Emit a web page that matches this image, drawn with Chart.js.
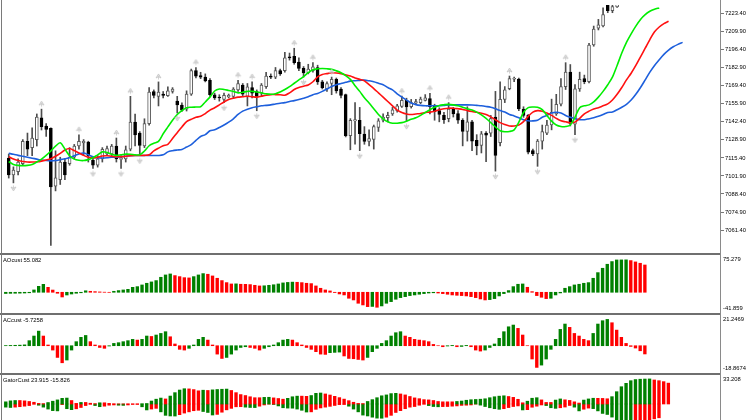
<!DOCTYPE html>
<html>
<head>
<meta charset="utf-8">
<script src="https://cdn.jsdelivr.net/npm/chart.js@4.4.1/dist/chart.umd.min.js"></script>
<style>
body{margin:0;background:#fff;}
#wrap{position:relative;width:752px;height:420px;overflow:hidden;background:#fff;}
#wrap canvas{position:absolute;left:0;}
.sep{position:absolute;left:0;width:721px;height:2px;background:#6f6f6f;}
.vline{position:absolute;top:0;width:1px;height:420px;}
</style>
</head>
<body>
<div id="wrap">
	<canvas id="mainChart" width="752" height="253" style="top:0"></canvas>
	<canvas id="aoChart" width="752" height="58" style="top:255px"></canvas>
	<canvas id="acChart" width="752" height="58" style="top:315px"></canvas>
	<canvas id="gatorChart" width="752" height="45" style="top:375px"></canvas>
	<div class="sep" style="top:253px"></div>
	<div class="sep" style="top:313px"></div>
	<div class="sep" style="top:373px"></div>
	<div class="vline" style="left:1px;background:#7a7a7a"></div>
	<div class="vline" style="left:720px;background:#8a8a8a"></div>
</div>
<script>
// price candles, one per bar
const candleOpen = [7115.2,7102.7,7105.1,7111.1,7127.9,7123.1,7129.1,7145.4,7139.2,7137.5,
	7094.3,7099.1,7112.3,7111.1,7115.9,7124.3,7126.7,7127.2,7113.5,7109.9,
	7114.7,7118.3,7118.3,7124.3,7114.2,7114.7,7121.9,7142.3,7133.9,7124.3,
	7141.1,7165.1,7161.5,7163.2,7162.0,7165.1,7157.9,7155.0,7151.9,7163.2,
	7180.7,7177.1,7175.9,7173.5,7162.7,7161.0,7159.1,7161.0,7161.5,7166.3,
	7169.9,7161.5,7168.0,7165.1,7163.9,7168.7,7176.6,7175.9,7180.7,7180.7,
	7191.0,7191.5,7187.2,7182.4,7179.0,7180.7,7183.1,7172.3,7167.0,7171.1,
	7174.2,7167.0,7162.8,7132.1,7143.1,7143.6,7133.3,7127.8,7129.2,7138.3,
	7143.6,7145.5,7148.4,7150.8,7154.0,7158.5,7153.7,7156.3,7156.8,7158.5,
	7159.9,7154.4,7150.8,7147.2,7144.8,7151.9,7148.6,7143.6,7135.2,7142.4,
	7128.5,7124.7,7134.0,7134.0,7146.0,7126.8,7159.2,7167.3,7174.3,7174.5,
	7152.0,7147.2,7120.8,7118.4,7128.0,7134.0,7140.0,7148.4,7155.6,7168.8,
	7179.6,7140.7,7167.1,7174.7,7172.4,7199.9,7212.6,7214.3,7232.8,7225.6,
	7228.5,7233.0,7240.0,7245.0,7238.0,7241.0,7236.0];
const candleHigh = [7118.3,7108.7,7114.7,7129.1,7134.0,7138.0,7148.3,7151.9,7141.1,7138.0,
	7120.7,7115.9,7114.7,7123.1,7125.5,7132.7,7129.1,7127.9,7115.9,7117.1,
	7123.1,7124.3,7125.5,7130.3,7117.1,7124.3,7161.5,7148.3,7135.1,7144.7,
	7168.0,7166.3,7172.3,7165.1,7168.7,7168.0,7161.5,7156.7,7165.6,7181.9,
	7183.1,7179.5,7178.3,7174.7,7163.9,7162.7,7163.9,7163.2,7168.0,7173.5,
	7171.1,7171.1,7172.3,7166.3,7171.1,7179.5,7178.3,7183.1,7181.9,7194.4,
	7193.9,7197.5,7190.3,7183.8,7185.5,7186.7,7184.8,7173.5,7172.3,7175.9,
	7175.2,7168.0,7163.2,7144.8,7156.8,7153.2,7138.8,7136.4,7140.0,7144.8,
	7148.4,7149.6,7153.2,7155.6,7161.6,7160.1,7159.2,7159.2,7160.9,7162.8,
	7163.7,7155.6,7152.9,7149.6,7156.8,7153.2,7150.8,7144.8,7153.7,7143.6,
	7132.8,7135.2,7135.2,7147.2,7165.2,7172.4,7168.8,7176.7,7175.9,7175.2,
	7153.7,7147.9,7122.0,7129.2,7140.0,7143.6,7159.4,7163.0,7174.7,7186.7,
	7185.3,7170.2,7179.6,7177.4,7201.1,7214.1,7219.1,7227.7,7235.6,7231.3,
	7235.6,7242.0,7248.0,7247.0,7244.0,7243.0,7240.0];
const candleLow = [7100.3,7096.7,7102.7,7109.9,7117.1,7117.1,7124.3,7136.3,7131.5,7049.9,
	7090.7,7095.5,7099.1,7109.9,7114.7,7121.9,7117.1,7112.3,7107.5,7108.5,
	7112.3,7117.1,7117.1,7112.3,7107.5,7112.3,7120.7,7124.3,7117.1,7123.1,
	7139.9,7160.3,7154.3,7160.3,7161.5,7163.9,7149.0,7150.2,7150.5,7162.2,
	7175.2,7174.7,7172.3,7161.5,7159.1,7157.9,7156.7,7160.3,7160.3,7165.1,
	7161.5,7154.3,7160.3,7150.7,7161.5,7167.5,7174.7,7174.7,7177.1,7179.5,
	7188.6,7185.5,7180.7,7175.9,7178.3,7179.5,7170.4,7167.0,7165.1,7162.7,
	7163.9,7160.3,7131.1,7121.5,7125.6,7120.8,7125.6,7124.4,7122.0,7135.2,
	7142.4,7142.4,7147.2,7149.6,7153.2,7142.9,7152.7,7155.6,7156.0,7158.0,
	7148.4,7143.6,7142.4,7141.2,7142.4,7146.0,7141.2,7124.4,7128.0,7120.8,
	7117.7,7119.1,7112.5,7131.4,7105.5,7124.4,7156.8,7166.4,7172.4,7150.8,
	7145.8,7118.4,7117.0,7109.1,7122.0,7132.8,7136.4,7147.2,7154.4,7166.6,
	7139.3,7132.8,7165.2,7170.9,7171.6,7199.0,7211.2,7213.4,7224.1,7224.1,
	7228.0,7231.0,7238.0,7236.0,7235.0,7233.0,7232.0];
const candleClose = [7102.7,7106.3,7112.3,7127.9,7121.9,7130.3,7145.9,7138.7,7136.8,7093.6,
	7100.5,7112.3,7102.7,7115.9,7124.3,7127.9,7127.9,7117.1,7109.9,7114.7,
	7121.9,7122.4,7124.3,7114.7,7115.2,7121.4,7142.3,7132.7,7124.8,7141.1,
	7164.6,7162.2,7164.6,7162.2,7165.6,7167.0,7155.0,7151.2,7163.2,7180.7,
	7176.6,7175.9,7173.0,7162.7,7160.3,7160.3,7162.2,7162.2,7167.0,7171.1,
	7163.2,7168.7,7163.9,7161.5,7169.9,7176.6,7175.9,7180.7,7178.3,7190.3,
	7190.3,7186.7,7182.4,7179.0,7181.9,7183.6,7172.3,7168.0,7171.1,7174.2,
	7165.6,7162.2,7132.1,7143.6,7144.0,7133.5,7127.8,7129.9,7138.8,7143.1,
	7146.0,7147.2,7151.3,7154.4,7158.5,7153.5,7156.8,7157.5,7159.4,7160.4,
	7153.7,7150.1,7147.9,7144.0,7152.0,7148.3,7143.6,7135.2,7142.4,7128.0,
	7124.4,7133.5,7132.4,7144.8,7117.2,7159.2,7166.4,7174.7,7175.0,7152.0,
	7147.2,7119.6,7118.4,7128.0,7135.2,7140.0,7149.6,7155.6,7168.8,7179.6,
	7141.2,7167.1,7174.3,7172.4,7199.9,7211.9,7215.0,7222.7,7225.6,7228.7,
	7233.5,7240.0,7245.0,7238.0,7241.0,7236.0,7238.0];

// alligator lines (already shifted forward as drawn)
const jaw = [7118.8,7118.1,7117.3,7116.6,7115.9,7115.2,7114.5,7113.8,7113.4,7113.2,
	7113.4,7114.1,7114.8,7115.5,7117.0,7118.4,7119.1,7117.7,7116.3,7115.5,
	7115.3,7115.5,7115.9,7116.0,7116.3,7116.6,7117.0,7117.2,7117.2,7117.2,
	7117.2,7117.2,7117.2,7117.7,7119.9,7120.8,7121.3,7121.7,7123.5,7125.3,
	7128.5,7131.4,7132.8,7135.7,7136.4,7138.2,7140.0,7142.2,7144.7,7147.9,
	7150.4,7151.9,7153.0,7153.7,7154.4,7154.7,7155.1,7155.8,7156.3,7156.8,
	7157.6,7158.3,7159.1,7160.1,7161.2,7162.7,7163.7,7165.2,7167.0,7168.8,
	7170.2,7171.1,7172.0,7172.9,7173.2,7173.4,7173.6,7173.1,7172.4,7171.3,
	7170.2,7168.1,7166.3,7163.4,7160.9,7158.7,7156.5,7155.3,7154.7,7154.4,
	7154.4,7154.4,7154.4,7154.7,7155.1,7155.1,7155.1,7155.1,7155.1,7155.0,
	7154.7,7154.4,7153.9,7153.3,7152.2,7150.8,7149.7,7147.9,7146.8,7145.4,
	7144.0,7143.2,7143.1,7143.6,7145.8,7147.2,7149.0,7149.6,7149.0,7147.2,
	7145.8,7144.7,7144.0,7144.0,7144.7,7145.4,7146.5,7147.9,7149.4,7149.7,
	7151.5,7153.3,7155.5,7158.7,7163.0,7168.1,7173.8,7179.6,7184.6,7188.9,
	7192.9,7196.1,7198.6,7200.4,7201.9];
const teeth = [7116.3,7114.5,7113.4,7112.7,7112.3,7112.3,7112.5,7113.0,7113.8,7114.8,
	7116.6,7118.8,7121.3,7122.4,7120.9,7119.1,7117.3,7115.9,7115.3,7115.9,
	7116.8,7117.0,7116.6,7116.3,7116.3,7116.6,7117.0,7117.2,7117.2,7117.3,
	7117.7,7120.6,7122.7,7124.5,7125.6,7129.9,7134.3,7138.6,7142.5,7144.3,
	7145.8,7146.5,7148.6,7151.2,7153.0,7155.1,7157.3,7159.2,7160.1,7160.9,
	7161.2,7161.6,7161.2,7160.9,7161.6,7162.3,7162.8,7162.8,7162.7,7162.3,
	7164.1,7166.6,7168.1,7169.1,7170.0,7172.4,7176.0,7177.8,7178.5,7179.1,
	7179.0,7178.5,7177.6,7176.7,7175.2,7174.2,7173.1,7170.2,7167.3,7164.1,
	7160.9,7157.6,7154.4,7151.2,7149.4,7148.3,7147.9,7148.3,7148.6,7149.4,
	7149.7,7150.4,7151.5,7152.2,7152.6,7152.6,7152.2,7151.7,7150.8,7150.1,
	7149.6,7148.9,7147.9,7146.1,7144.0,7141.8,7140.4,7139.3,7139.3,7140.0,
	7142.5,7146.5,7149.7,7150.8,7150.4,7149.0,7147.2,7145.0,7143.2,7142.4,
	7141.7,7142.2,7145.0,7148.4,7150.4,7152.0,7153.0,7154.4,7155.8,7158.7,
	7163.0,7168.1,7173.8,7178.8,7184.6,7191.1,7197.5,7204.0,7209.8,7213.4,
	7215.9,7217.7];
const lips = [7112.7,7110.5,7109.8,7109.6,7109.8,7110.5,7112.3,7114.5,7117.3,7120.6,
	7124.2,7126.7,7122.0,7117.0,7114.5,7113.6,7113.4,7114.1,7115.5,7117.7,
	7119.9,7119.5,7118.1,7117.3,7117.7,7118.2,7118.1,7117.7,7117.7,7120.6,
	7124.5,7126.3,7127.8,7133.5,7138.6,7143.6,7147.9,7150.8,7153.0,7153.3,
	7153.5,7153.7,7157.3,7160.9,7165.5,7167.0,7166.6,7165.9,7165.2,7164.1,
	7164.5,7165.2,7165.2,7164.8,7164.1,7163.4,7163.0,7163.4,7164.8,7166.6,
	7168.8,7171.3,7173.8,7176.3,7179.2,7181.4,7182.1,7182.3,7182.1,7181.7,
	7180.6,7179.2,7177.0,7174.2,7169.5,7165.2,7160.4,7156.5,7152.2,7147.9,
	7144.7,7142.5,7141.4,7141.4,7141.8,7142.9,7144.3,7145.4,7147.2,7149.4,
	7151.5,7153.3,7154.7,7155.2,7155.5,7155.1,7154.4,7153.3,7152.2,7151.2,
	7149.7,7147.6,7145.0,7141.8,7138.6,7135.7,7135.0,7135.2,7136.4,7142.2,
	7149.4,7153.0,7153.5,7153.3,7151.5,7147.2,7142.9,7140.0,7138.9,7138.9,
	7140.0,7145.8,7153.0,7154.4,7155.1,7157.3,7160.9,7165.2,7170.2,7175.9,
	7184.6,7193.9,7201.9,7208.3,7214.1,7219.1,7222.7,7225.2,7226.7,7227.7];

// bars carrying a fractal mark
const fractalUp = [7,15,23,26,32,40,49,52,61,65,69,84,90,94,107,119];
const fractalDown = [1,9,18,24,28,36,46,53,63,75,85,104,113,121];

const priceTicks = [7223.40,7209.90,7196.40,7182.90,7169.40,7155.90,7142.40,7128.90,7115.40,7101.90,7088.40,7074.90,7061.40];
const priceRange = [7047.95, 7229.87];

const aoValues = [-2.5,-2.2,-2.0,-1.8,-1.5,-1.0,4.7,12.0,16.0,10.0,
	4.5,-2.0,-9.5,-5.5,-3.5,-2.0,-1.0,3.0,2.0,1.3,
	0.7,0.2,-0.2,2.0,3.4,4.7,6.0,10.0,11.4,14.8,
	18.2,20.9,23.6,30.3,35.0,37.0,33.7,31.6,29.5,29.0,
	31.6,35.0,37.7,36.4,33.0,28.3,23.6,19.5,16.8,17.0,
	16.2,16.0,15.5,14.1,12.8,13.1,14.1,15.2,16.8,18.9,
	19.9,20.5,20.2,19.5,18.2,17.5,12.8,8.1,4.7,2.7,
	-0.5,-3.4,-5.4,-12.1,-15.5,-22.2,-25.6,-29.0,-28.6,-30.3,
	-27.6,-22.2,-18.9,-14.1,-10.8,-8.8,-6.7,-5.4,-4.0,-2.7,
	-1.5,-1.0,-1.5,-2.7,-4.0,-5.4,-6.1,-6.7,-7.4,-8.8,
	-10.8,-13.5,-15.5,-14.8,-12.8,-7.4,-2.7,3.4,11.4,16.2,
	16.8,10.1,1.3,-6.7,-10.1,-12.8,-12.1,-5.4,-1.3,8.1,
	11.4,14.8,16.2,18.2,19.5,28.3,39.7,48.5,56.6,62.0,
	65.3,65.4,65.5,64.0,61.3,58.6,55.1];
const aoRange = [-41.859, 75.279];

const acValues = [0.1,0.2,0.3,0.4,0.6,3.5,6.7,10.1,6.7,0.5,
	-3.0,-8.1,-11.8,-9.9,-3.0,2.8,5.8,7.1,2.8,0.5,
	-1.2,-1.8,-0.2,1.6,2.1,2.8,3.5,4.4,3.9,4.4,
	6.7,6.4,7.4,8.5,9.7,6.2,1.2,-2.5,-3.0,-1.8,
	0.5,4.4,5.8,3.9,0.5,-5.8,-8.8,-8.1,-5.8,-3.0,
	-1.2,-0.7,-1.2,-1.8,-3.0,-1.8,-0.7,0.5,2.1,3.9,
	4.4,3.9,2.1,0.5,-1.2,-2.5,-4.1,-5.8,-6.0,-4.8,
	-4.6,-4.4,-7.1,-8.8,-9.0,-9.5,-9.9,-8.1,-4.1,-1.8,
	1.6,3.5,6.7,9.0,9.7,6.7,5.8,4.4,3.9,3.5,
	2.8,0.9,0.0,-0.7,-0.2,0.2,-0.7,-0.5,0.2,-0.7,
	-3.0,-3.7,-3.0,-1.2,1.2,5.1,9.7,13.1,14.3,12.0,
	7.4,0.0,-9.2,-15.0,-13.4,-9.2,-2.5,4.4,11.3,15.0,
	12.7,8.5,6.7,4.4,3.5,8.5,15.0,17.3,18.2,15.9,
	10.8,5.8,1.6,-0.5,-1.6,-3.5,-5.7];
const acRange = [-18.8674, 21.2469];

const gatorUpper = [2.5,3.6,4.0,4.0,3.6,2.9,2.0,0.7,0.4,1.7,
	3.2,4.7,6.5,6.8,4.0,0.7,1.8,1.8,0.9,0.4,
	1.4,1.4,0.7,0.2,0.1,0.1,0.1,0.1,0.1,0.2,
	0.5,3.4,5.5,6.8,5.8,9.1,13.0,16.0,17.5,17.3,
	16.5,15.1,15.8,15.5,16.2,16.6,16.9,17.1,15.5,13.0,
	10.8,9.7,8.3,7.2,7.2,7.6,7.7,7.0,6.3,5.5,
	6.5,8.3,9.0,9.0,8.8,9.7,12.2,12.6,11.5,10.3,
	8.8,7.3,5.6,3.8,2.0,0.7,0.5,2.9,5.0,7.2,
	9.4,10.4,11.9,12.2,11.5,10.4,8.6,7.0,6.1,5.0,
	4.7,4.0,2.9,2.5,2.5,2.5,2.9,3.4,4.3,4.9,
	5.2,5.5,6.0,7.2,8.3,9.0,9.4,8.6,7.6,5.4,
	1.4,3.2,6.6,7.2,4.7,1.8,1.8,4.5,5.8,4.8,
	4.1,2.5,1.1,4.5,5.8,6.6,6.5,6.4,6.0,8.4,
	14.1,19.8,23.7,26.7,28.0,28.4,28.6,28.7,27.5,26.7,
	25.6,23.9];
const gatorLower = [3.6,4.0,3.6,3.1,2.5,1.8,0.2,1.4,3.6,5.8,
	7.6,7.9,0.7,5.4,6.5,5.5,4.0,1.8,0.3,1.8,
	3.1,2.5,1.4,1.1,1.4,1.6,1.1,0.5,0.5,3.2,
	6.8,5.8,5.0,9.0,13.0,13.7,13.8,12.2,10.4,9.0,
	7.7,7.2,8.6,9.7,12.6,11.9,9.4,6.7,5.0,3.2,
	3.1,3.6,4.0,4.1,2.5,1.1,0.2,0.6,2.2,4.3,
	4.7,4.8,5.8,7.2,9.2,9.0,6.1,4.5,3.6,2.7,
	1.7,0.7,0.6,2.5,5.8,9.0,12.7,13.7,15.1,16.2,
	16.3,15.1,13.0,9.7,7.6,5.4,3.6,2.9,1.4,0.2,
	1.8,2.9,3.2,3.0,2.9,2.5,2.2,1.6,1.4,1.1,
	0.1,1.3,2.9,4.3,5.4,6.1,5.4,4.1,2.9,2.2,
	6.8,6.5,3.7,2.5,1.1,1.8,4.3,5.0,4.3,3.5,
	1.7,3.6,7.9,6.0,4.7,5.3,7.9,10.8,12.0,15.0,
	18.5,21.0,22.5,23.0,22.5,21.5,20.0,18.5,17.0,15.8];
const gatorRange = [-18.32, 33.208];

const panelTitles = ['AOcust 55.082', 'ACcust -5.7258', 'GatorCust 23.915 -15.826'];

const GREEN = '#008000';
const RED = '#ff0000';
const TEXT_FONT = '5.8px "Liberation Sans", Arial, sans-serif';

function xScale() {
	return { type: 'linear', min: -0.8, max: 152.2, display: false, offset: false };
}

function rightAxis(range, extra) {
	return Object.assign({
		position: 'right',
		min: range[0],
		max: range[1],
		afterFit(scale) { scale.width = 31; },
		ticks: { display: false },
		grid: { display: false },
		border: { display: false }
	}, extra || {});
}

// subpanel title and the min/max labels on the price side
const edgeLabels = {
	id: 'edgeLabels',
	afterDraw(chart, args, opts) {
		const { ctx, chartArea } = chart;
		const ys = chart.scales.y;
		ctx.save();
		ctx.font = TEXT_FONT;
		ctx.fillStyle = '#000';
		ctx.textAlign = 'left';
		if (opts.title) {
			ctx.textBaseline = 'top';
			ctx.fillText(opts.title, chartArea.left + 1, chartArea.top + 2);
		}
		(opts.values || []).forEach(v => {
			const py = ys.getPixelForValue(v);
			const atTop = v === ys.max;
			ctx.textBaseline = atTop ? 'top' : 'bottom';
			ctx.fillText(String(v), chartArea.right + 2, atTop ? py + 1.5 : py - 1.5);
		});
		ctx.restore();
	}
};

function fractalIcon(up) {
	const c = document.createElement('canvas');
	c.width = 7;
	c.height = 20;
	const g = c.getContext('2d');
	const cy = up ? 5 : 15;
	const d = up ? 1 : -1;
	g.fillStyle = '#e2e2e2';
	g.strokeStyle = '#bdbdbd';
	g.lineWidth = 0.7;
	g.beginPath();
	g.moveTo(3.5, cy - d * 3);
	g.lineTo(1, cy + d * 1);
	g.lineTo(3.5, cy - d * 0.2);
	g.lineTo(6, cy + d * 1);
	g.closePath();
	g.fill();
	g.stroke();
	g.beginPath();
	g.moveTo(3.5, cy - d * 0.5);
	g.lineTo(3.5, cy + d * 2.6);
	g.stroke();
	return c;
}

function baseOptions(yAxis, pluginOpts) {
	return {
		animation: false,
		responsive: false,
		events: [],
		layout: { padding: { left: 2, right: 0, top: 0, bottom: 0 } },
		plugins: {
			legend: { display: false },
			tooltip: { enabled: false },
			edgeLabels: pluginOpts || {}
		},
		scales: { x: xScale(), y: yAxis }
	};
}

function loadMainChart() {
	const bodies = candleOpen.map((o, i) => ({ x: i, y: [o, candleClose[i]] }));
	const wicks = candleOpen.map((o, i) => ({ x: i, y: [candleLow[i], candleHigh[i]] }));
	const isUp = i => candleClose[i] >= candleOpen[i];
	const line = (values, color) => ({
		type: 'line',
		data: values.map((v, i) => ({ x: i, y: v })),
		borderColor: color,
		borderWidth: 1.6,
		pointRadius: 0,
		tension: 0.3,
		order: 1
	});

	new Chart(document.getElementById('mainChart'), {
		type: 'bar',
		data: {
			datasets: [
				{
					type: 'scatter',
					data: fractalUp.map(i => ({ x: i, y: candleHigh[i] })),
					pointStyle: fractalIcon(true),
					pointRadius: 4,
					order: 0
				},
				{
					type: 'scatter',
					data: fractalDown.map(i => ({ x: i, y: candleLow[i] })),
					pointStyle: fractalIcon(false),
					pointRadius: 4,
					order: 0
				},
				line(lips, '#00ee00'),
				line(teeth, '#ff1010'),
				line(jaw, '#1d5fdc'),
				{
					data: bodies,
					backgroundColor: c => isUp(c.dataIndex) ? '#ffffff' : '#000000',
					borderColor: c => isUp(c.dataIndex) ? '#5a5a5a' : '#000000',
					borderWidth: 1,
					borderSkipped: false,
					barThickness: 3,
					grouped: false,
					order: 3
				},
				{
					data: wicks,
					backgroundColor: '#4d4d4d',
					barThickness: 1,
					grouped: false,
					order: 4
				}
			]
		},
		options: baseOptions(rightAxis(priceRange, {
			afterBuildTicks(scale) {
				scale.ticks = priceTicks.map(v => ({ value: v }));
			},
			ticks: {
				display: true,
				autoSkip: false,
				padding: 1,
				color: '#000',
				font: { family: '"Liberation Sans", Arial, sans-serif', size: 5.8 },
				callback: v => Number(v).toFixed(2)
			},
			grid: { display: true, drawOnChartArea: false, drawTicks: true, tickLength: 3, color: '#777' }
		}))
	});
}

function histogram(values, compare) {
	return {
		data: values.map((v, i) => ({ x: i, y: v })),
		backgroundColor: c => {
			const i = c.dataIndex;
			if (i === 0) return GREEN;
			return compare(values[i], values[i - 1]) ? GREEN : RED;
		},
		barThickness: 2.7,
		grouped: false
	};
}

function loadOscillators() {
	new Chart(document.getElementById('aoChart'), {
		type: 'bar',
		data: { datasets: [histogram(aoValues, (a, b) => a > b)] },
		options: baseOptions(rightAxis(aoRange), { title: panelTitles[0], values: [aoRange[1], aoRange[0]] }),
		plugins: [edgeLabels]
	});

	new Chart(document.getElementById('acChart'), {
		type: 'bar',
		data: { datasets: [histogram(acValues, (a, b) => a > b)] },
		options: baseOptions(rightAxis(acRange), { title: panelTitles[1], values: [acRange[1], acRange[0]] }),
		plugins: [edgeLabels]
	});

	const upper = histogram(gatorUpper, (a, b) => a > b);
	const lower = histogram(gatorLower, (a, b) => a > b);
	lower.data = gatorLower.map((v, i) => ({ x: i, y: -v }));
	new Chart(document.getElementById('gatorChart'), {
		type: 'bar',
		data: { datasets: [upper, lower] },
		options: baseOptions(rightAxis(gatorRange), { title: panelTitles[2], values: [gatorRange[1]] }),
		plugins: [edgeLabels]
	});
}

window.onload = function () {
	loadMainChart();
	loadOscillators();
};
</script>
</body>
</html>
